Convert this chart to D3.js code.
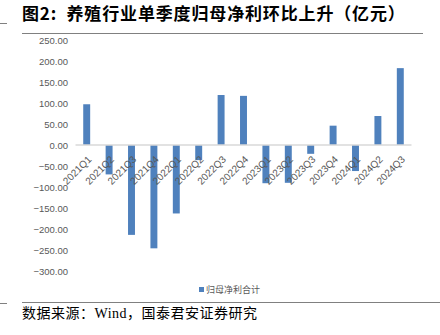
<!DOCTYPE html>
<html>
<head>
<meta charset="utf-8">
<script src="https://cdn.jsdelivr.net/npm/d3@7"></script>
<style>
  html, body { margin: 0; padding: 0; background: #fff; }
  svg { display: block; }
</style>
</head>
<body>
<svg id="chart" width="440" height="335"></svg>
<script>
// Quarterly parent net profit change, livestock breeding sector (亿元)
const quarters = ["2021Q1","2021Q2","2021Q3","2021Q4","2022Q1","2022Q2","2022Q3","2022Q4",
                  "2023Q1","2023Q2","2023Q3","2023Q4","2024Q1","2024Q2","2024Q3"];
const netProfit = [97, -70, -214, -246, -163, -36, 119, 117, -91, -90, -21, 46, -62, 69, 183];
const yTicks = [250, 200, 150, 100, 50, 0, -50, -100, -150, -200, -250, -300];
const seriesName = "归母净利合计";
const titleText = "图2:  养殖行业单季度归母净利环比上升（亿元）";
const sourceText = "数据来源：Wind，国泰君安证券研究";

const svg = d3.select("#chart");
const barColor = "#4f81bd";

const x = d3.scaleBand().domain(quarters).range([75.5, 411.5]).paddingInner(0.69).paddingOuter(0.345);
const y = d3.scaleLinear().domain([-300, 250]).range([271, 40]);

// Title and rules
svg.append("text")
  .attr("x", 22).attr("y", 20)
  .attr("font-family", "'Noto Sans CJK SC', sans-serif")
  .attr("font-weight", "bold")
  .attr("font-size", 17)
  .attr("letter-spacing", 0.85)
  .style("white-space", "pre")
  .attr("fill", "#000")
  .text(titleText);
svg.append("line").attr("x1", 22).attr("x2", 423).attr("y1", 33.5).attr("y2", 33.5)
  .attr("stroke", "#808080").attr("stroke-width", 1.2);
svg.append("line").attr("x1", 0).attr("x2", 7).attr("y1", 23.5).attr("y2", 23.5)
  .attr("stroke", "#808080").attr("stroke-width", 1);

// Y axis labels (no axis line)
const yAxis = d3.axisLeft(y).tickValues(yTicks).tickSize(0).tickPadding(0)
  .tickFormat(d3.format(".2f"));
const gy = svg.append("g").attr("transform", "translate(68,0)").call(yAxis);
gy.select(".domain").remove();
gy.selectAll("text")
  .attr("font-family", "'Liberation Sans Narrow', 'Liberation Sans', sans-serif")
  .attr("font-size", 9.5)
  .attr("fill", "#595959");

// Bars
svg.append("g").selectAll("rect").data(quarters).join("rect")
  .attr("x", d => x(d))
  .attr("width", x.bandwidth())
  .attr("y", (d, i) => y(Math.max(0, netProfit[i])))
  .attr("height", (d, i) => Math.abs(y(netProfit[i]) - y(0)))
  .attr("fill", barColor);

// Zero baseline
svg.append("line").attr("x1", 75.5).attr("x2", 411.5).attr("y1", y(0)).attr("y2", y(0))
  .attr("stroke", "#d9d9d9").attr("stroke-width", 1.5);

// Category labels, rotated
svg.append("g").selectAll("text").data(quarters).join("text")
  .attr("transform", d => `translate(${x(d) + x.bandwidth() / 2 + 5.5},${y(0) + 15}) rotate(-45)`)
  .attr("text-anchor", "end")
  .attr("font-family", "'Liberation Sans Narrow', 'Liberation Sans', sans-serif")
  .attr("font-size", 10)
  .attr("fill", "#595959")
  .text(d => d);

// Legend
svg.append("rect").attr("x", 199).attr("y", 287).attr("width", 5).attr("height", 5).attr("fill", barColor);
svg.append("text").attr("x", 206).attr("y", 293)
  .attr("font-family", "'Noto Sans CJK SC', sans-serif")
  .attr("font-size", 9)
  .attr("fill", "#595959")
  .text(seriesName);

// Footer rule and source
svg.append("line").attr("x1", 22).attr("x2", 440).attr("y1", 302.5).attr("y2", 302.5)
  .attr("stroke", "#808080").attr("stroke-width", 1.2);
svg.append("line").attr("x1", 0).attr("x2", 7).attr("y1", 303.5).attr("y2", 303.5)
  .attr("stroke", "#808080").attr("stroke-width", 1);
svg.append("text").attr("x", 22).attr("y", 318)
  .attr("font-family", "'Liberation Serif', 'Noto Sans CJK SC', serif")
  .attr("font-size", 14)
  .attr("letter-spacing", 0.5)
  .attr("fill", "#000")
  .text(sourceText);
</script>
</body>
</html>
